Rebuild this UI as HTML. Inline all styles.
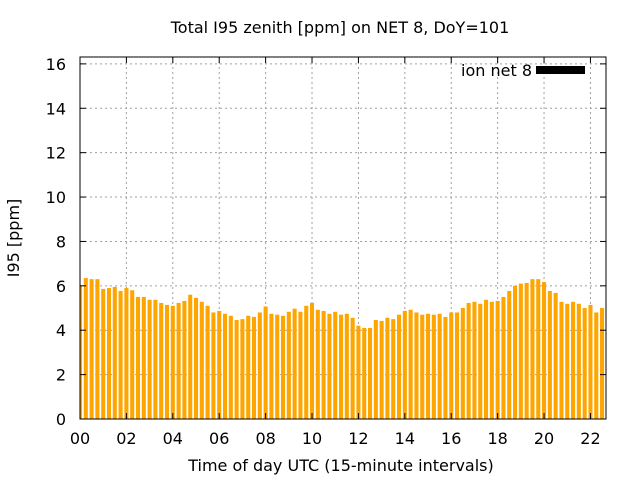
<!DOCTYPE html>
<html><head><meta charset="utf-8"><style>body{margin:0;background:#fff}svg{display:block}text{font-family:"DejaVu Sans","Liberation Sans",sans-serif;fill:#000}</style></head>
<body>
<svg id="c" width="640" height="480"></svg>
<script>
const values=[6.0,6.35,6.3,6.3,5.86,5.9,5.95,5.77,5.9,5.8,5.5,5.5,5.37,5.37,5.23,5.14,5.1,5.23,5.32,5.6,5.46,5.28,5.1,4.8,4.87,4.74,4.65,4.46,4.5,4.65,4.6,
4.8,5.07,4.74,4.7,4.65,4.83,4.97,4.83,5.1,5.23,4.92,4.87,4.74,4.83,4.7,4.74,4.56,4.2,4.1,4.1,4.46,4.42,4.56,4.5,4.7,4.87,4.92,4.8,4.7,4.74,
4.7,4.74,4.6,4.8,4.8,5.0,5.23,5.28,5.19,5.37,5.28,5.32,5.5,5.77,6.0,6.1,6.13,6.3,6.3,6.17,5.77,5.68,5.28,5.19,5.28,5.19,5.0,5.14,4.8,5.0,4.92];
const xTicks=["00","02","04","06","08","10","12","14","16","18","20","22"];
const yTicks=[0,2,4,6,8,10,12,14,16];
const NS="http://www.w3.org/2000/svg",svg=document.getElementById('c');
const L=80,R=606,T=57,B=419,XMAX=22.67,YMAX=16.31;
const xs=h=>L+h/XMAX*(R-L), ys=v=>B-v/YMAX*(B-T);
function mk(t,a,p){const e=document.createElementNS(NS,t);for(const k in a)e.setAttribute(k,a[k]);(p||svg).appendChild(e);return e;}
const grid=mk('g',{stroke:'#a0a0a0','stroke-width':1,'stroke-dasharray':'2,3'});


yTicks.forEach(v=>{if(v>0)mk('line',{x1:L,x2:R,y1:ys(v),y2:ys(v)},grid);});
xTicks.forEach((t,i)=>{if(i>0)mk('line',{x1:xs(i*2),x2:xs(i*2),y1:T,y2:B},grid);});
const bars=mk('g',{fill:'#ffa500'});


const bw=0.7*0.25/XMAX*(R-L);
values.forEach((v,i)=>{const cx=xs(i*0.25);let x0=Math.max(L,cx-bw/2),x1=Math.min(R,cx+bw/2);
const r=mk('rect',{x:x0,y:ys(v),width:x1-x0,height:B-ys(v)},bars);

});
const ax=mk('g',{stroke:'#000','stroke-width':1,fill:'none'});


mk('rect',{x:L,y:T,width:R-L,height:B-T},ax);
yTicks.forEach(v=>{const y=ys(v);mk('line',{x1:L,x2:L+6,y1:y,y2:y},ax);mk('line',{x1:R,x2:R-6,y1:y,y2:y},ax);
const t=mk('text',{x:L-14,y:y+6,'text-anchor':'end','font-size':16});t.textContent=v;

});
xTicks.forEach((s,i)=>{const x=xs(i*2);mk('line',{x1:x,x2:x,y1:B,y2:B-6},ax);mk('line',{x1:x,x2:x,y1:T,y2:T+6},ax);
const t=mk('text',{x:x,y:B+25,'text-anchor':'middle','font-size':16});t.textContent=s;

});
let t=mk('text',{x:340,y:33,'text-anchor':'middle','font-size':16});t.textContent='Total I95 zenith [ppm] on NET 8, DoY=101';


t=mk('text',{x:341,y:471,'text-anchor':'middle','font-size':16});t.textContent='Time of day UTC (15-minute intervals)';


t=mk('text',{x:19,y:238,'text-anchor':'middle','font-size':16,transform:'rotate(-90 19 238)'});t.textContent='I95 [ppm]';


t=mk('text',{x:532,y:76,'text-anchor':'end','font-size':16});t.textContent='ion net 8';


const lb=mk('rect',{x:536,y:66,width:49,height:8,fill:'#000'});


</script>
</body></html>
